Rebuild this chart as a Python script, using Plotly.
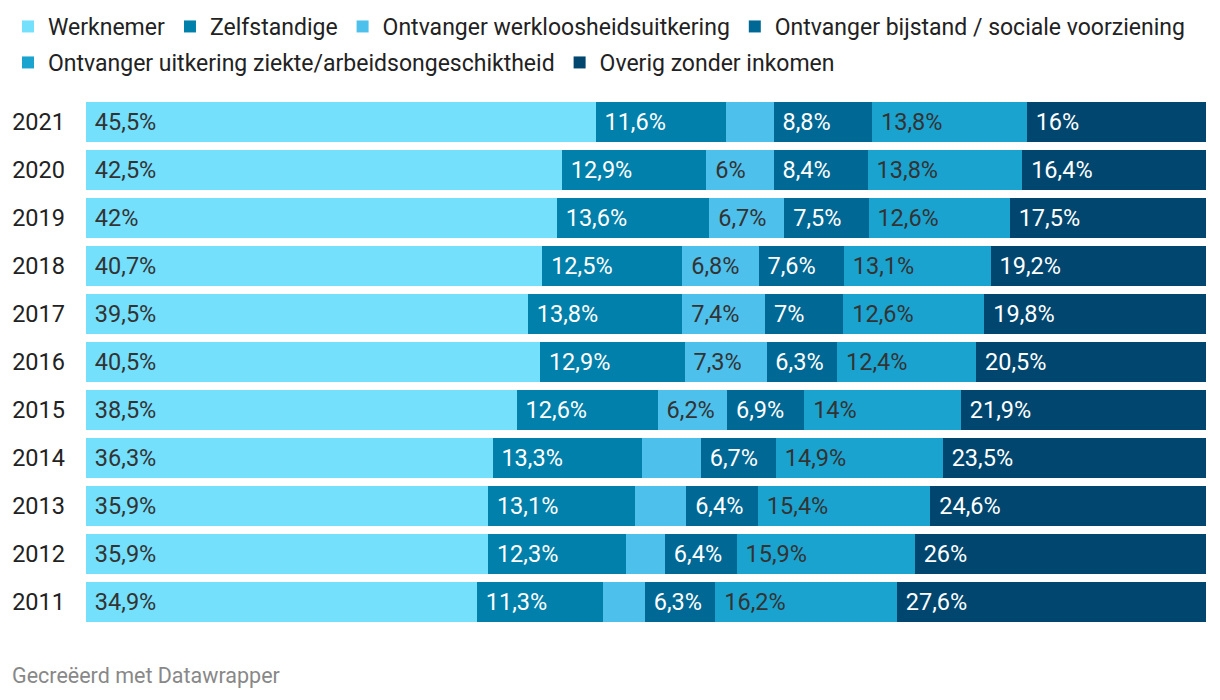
import plotly.graph_objects as go

years = ["2021", "2020", "2019", "2018", "2017", "2016", "2015", "2014", "2013", "2012", "2011"]
series_names = [
    "Werknemer",
    "Zelfstandige",
    "Ontvanger werkloosheidsuitkering",
    "Ontvanger bijstand / sociale voorziening",
    "Ontvanger uitkering ziekte/arbeidsongeschiktheid",
    "Overig zonder inkomen",
]
werknemer = [45.5, 42.5, 42.0, 40.7, 39.5, 40.5, 38.5, 36.3, 35.9, 35.9, 34.9]
zelfstandige = [11.6, 12.9, 13.6, 12.5, 13.8, 12.9, 12.6, 13.3, 13.1, 12.3, 11.3]
werkloos = [4.3, 6.0, 6.7, 6.8, 7.4, 7.3, 6.2, 5.3, 4.6, 3.5, 3.7]
bijstand = [8.8, 8.4, 7.5, 7.6, 7.0, 6.3, 6.9, 6.7, 6.4, 6.4, 6.3]
ziekte = [13.8, 13.8, 12.6, 13.1, 12.6, 12.4, 14.0, 14.9, 15.4, 15.9, 16.2]
overig = [16.0, 16.4, 17.5, 19.2, 19.8, 20.5, 21.9, 23.5, 24.6, 26.0, 27.6]

series_values = [werknemer, zelfstandige, werkloos, bijstand, ziekte, overig]
colors = ["#74e0fc", "#0080aa", "#4ec0ec", "#006894", "#1ba3d0", "#00466e"]
text_colors = ["#333333", "#ffffff", "#333333", "#ffffff", "#333333", "#ffffff"]
legend_rows = ["legend", "legend", "legend", "legend", "legend2", "legend2"]

FS = 23.5
# page body has an 8px default margin: size the figure so it ends at the window edge
W, H = 1212, 692
ML, MR, MT, MB = 78, 14, 90, 74
PW, PH = W - ML - MR, H - MT - MB


def fmt(v):
    if v < 6:
        return ""
    s = ("%.1f" % v).rstrip("0").rstrip(".")
    return "\u00a0" + s.replace(".", ",") + "%"


fig = go.Figure()
for name, vals, col, tcol, lg in zip(series_names, series_values, colors, text_colors, legend_rows):
    fig.add_trace(go.Bar(
        y=years, x=vals, name=name, orientation="h",
        marker=dict(color=col, line=dict(width=0)),
        text=[fmt(v) for v in vals],
        textposition="inside", insidetextanchor="start", textangle=0,
        constraintext="none",
        textfont=dict(family="Roboto", size=FS, color=tcol),
        hoverinfo="skip",
        legend=lg,
    ))

legend_common = dict(
    orientation="h", xref="paper", x=-ML / PW, xanchor="left",
    yref="paper", yanchor="top",
    font=dict(family="Roboto", size=23, color="#222222"),
    traceorder="normal", itemclick=False, itemdoubleclick=False,
    bgcolor="rgba(0,0,0,0)",
)

fig.update_layout(
    width=W, height=H,
    barmode="stack", barnorm="percent", bargap=0.167,
    paper_bgcolor="white", plot_bgcolor="white",
    margin=dict(l=ML, r=MR, t=MT, b=MB, autoexpand=False),
    font=dict(family="Roboto", size=FS, color="#333333"),
    showlegend=True,
    legend=dict(legend_common, y=1 + (MT + 3) / PH),
    legend2=dict(legend_common, y=1 + (MT - 33) / PH),
    xaxis=dict(range=[0, 100], visible=False, fixedrange=True),
    yaxis=dict(
        categoryorder="array", categoryarray=years[::-1],
        showgrid=False, zeroline=False, showline=False, ticks="",
        ticklabelstandoff=20, automargin=False,
        tickfont=dict(family="Roboto", size=FS, color="#222222"),
        fixedrange=True,
    ),
    annotations=[dict(
        text="Gecreëerd met Datawrapper",
        xref="paper", yref="paper", showarrow=False,
        x=(2 - ML) / PW, xanchor="left",
        y=-(667 - (MT + PH)) / PH, yanchor="middle",
        font=dict(family="Roboto", size=21.5, color="#888888"),
    )],
)

fig.write_html("out.html")
